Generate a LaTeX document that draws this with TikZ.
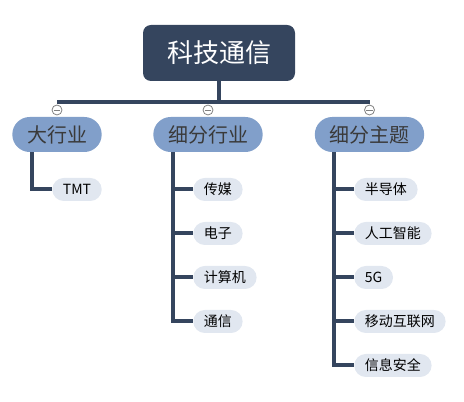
\documentclass[tikz,border=0pt]{standalone}
\usepackage{fontspec}
\newfontfamily\cjk{Noto Sans CJK SC}
\usetikzlibrary{positioning,calc}
\definecolor{navy}{HTML}{35455E}
\definecolor{bluegray}{HTML}{819FCA}
\definecolor{palegray}{HTML}{E1E7F0}
\definecolor{darktext}{HTML}{3A3A3A}

\begin{document}
\begin{tikzpicture}[x=0.75pt, y=-0.75pt]
	\useasboundingbox (0,0) rectangle (464,402);
	\begin{scope}
		\tikzstyle{every node}=[align=center, font=\cjk]
		\tikzstyle{root}=[fill=navy, text=white, rounded corners=6pt, inner xsep=18pt, minimum height=42pt, font=\cjk\fontsize{19.5pt}{24pt}\selectfont]
		\tikzstyle{group}=[fill=bluegray, text=darktext, rounded corners=13pt, inner xsep=11pt, minimum height=26.25pt, font=\cjk\fontsize{15pt}{18pt}\selectfont]
		\tikzstyle{leaf}=[fill=palegray, text=black, rounded corners=8.6pt, inner xsep=8pt, minimum height=17.25pt, anchor=west, font=\cjk\fontsize{10.5pt}{12pt}\selectfont]
		\tikzstyle{fold}=[circle, draw=gray, fill=white, line width=0.6pt, minimum size=7.5pt, inner sep=0pt, path picture={\draw[gray, line width=0.6pt] ([xshift=1.4pt]path picture bounding box.west) -- ([xshift=-1.4pt]path picture bounding box.east);}]
		\tikzstyle{link}=[draw=navy, line width=3pt]

		\node[root] (tech) at (219, 53) {科技通信};

		\node[fold] (fi) at (57, 110) {};
		\node[fold] (fs) at (208, 110) {};
		\node[fold] (ft) at (369.5, 110) {};

		\node[group] (ind) at (57, 134.5) {大行业};
		\node[group] (sub) at (208, 134.5) {细分行业};
		\node[group] (topic) at (369.5, 134.5) {细分主题};

		\node[leaf] (tmt) at (52, 189.5) {TMT};

		\node[leaf] (media) at (193, 189.5) {传媒};
		\node[leaf] (elec) at (193, 233.5) {电子};
		\node[leaf] (comp) at (193, 277.5) {计算机};
		\node[leaf] (tele) at (193, 321.5) {通信};

		\node[leaf] (semi) at (354, 189.5) {半导体};
		\node[leaf] (ai) at (354, 233.5) {人工智能};
		\node[leaf] (fiveg) at (354, 277.5) {5G};
		\node[leaf] (mobile) at (354, 321.5) {移动互联网};
		\node[leaf] (infosec) at (354, 365.5) {信息安全};

		\draw [link] (tech.south) |- ([yshift=2.25pt]fi.north);
		\draw [link] (tech.south) |- ([yshift=2.25pt]fs.north);
		\draw [link] (tech.south) |- ([yshift=2.25pt]ft.north);

		\draw [link] (ind.south -| tmt.west) ++(-15pt,0) |- (tmt.west);
		\foreach \c in {media, elec, comp, tele}
			\draw [link] (sub.south -| media.west) ++(-15pt,0) |- (\c.west);
		\foreach \c in {semi, ai, fiveg, mobile, infosec}
			\draw [link] (topic.south -| semi.west) ++(-15pt,0) |- (\c.west);
	\end{scope}
\end{tikzpicture}
\end{document}
